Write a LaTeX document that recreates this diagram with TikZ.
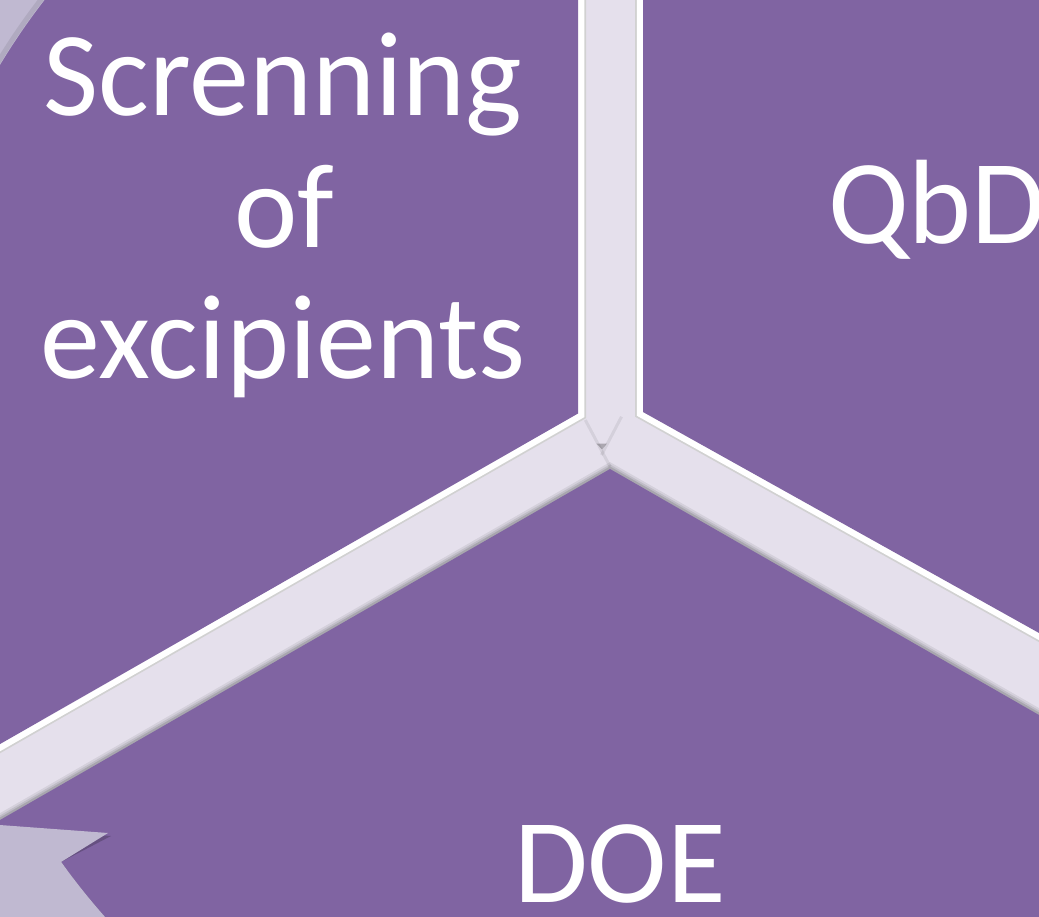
\documentclass[tikz,border=0pt]{standalone}
\usepackage{fontspec}
\setmainfont{Carlito}
\usetikzlibrary{calc}
\definecolor{segpurple}{HTML}{8064A2}
\definecolor{bandlav}{HTML}{E5E0EC}
\definecolor{arrowlav}{HTML}{C0B9D1}
\tikzset{
  segment/.style={fill=segpurple, draw=none},
  edgegray/.style={draw=black!18, line width=16pt, line join=miter},
  edgewhite/.style={draw=white, line width=12.5pt, line join=miter},
  shadowline/.style={draw=black, line join=miter},
  biglabel/.style={text=white, font=\fontsize{120}{132}\selectfont, inner sep=0pt, text depth=0pt},
}
\begin{document}
\begin{tikzpicture}[x=1pt,y=-1pt]
\useasboundingbox (0,0) rectangle (1039,916);
\clip (0,0) rectangle (1039,916);
\fill[bandlav] (0,0) rectangle (1039,916);
\coordinate (A1) at (578,413.5);
\coordinate (A2) at (643,412);
\coordinate (A3) at (610,469);
% highlight edges of the two upper segments
\draw[edgegray] (578,-30) -- (A1) -- (-30,761.2);
\draw[edgegray] (643,-30) -- (A2) -- (1250,750.7);
\draw[edgewhite] (578,-30) -- (A1) -- (-30,761.2);
\draw[edgewhite] (643,-30) -- (A2) -- (1250,750.7);
% shadow edges of the lower segment
\draw[shadowline, opacity=.07, line width=12pt] (-30,837.3) -- (A3) -- (1250,836);
\draw[shadowline, opacity=.09, line width=8pt] (-30,837.3) -- (A3) -- (1250,836);
\draw[shadowline, opacity=.12, line width=4.5pt] (-30,837.3) -- (A3) -- (1250,836);
% segments
\fill[segment] (578,-30) -- (A1) -- (-30,761.2) -- (-30,-30) -- cycle;
\fill[segment] (643,-30) -- (A2) -- (1250,750.7) -- (1250,-30) -- cycle;
\fill[segment] (-30,837.3) -- (A3) -- (1250,836) -- (1250,1000) -- (-30,1000) -- cycle;
% centre details
\fill[black, opacity=.25] (596.5,443.5) -- (607,443.5) -- (602,449.5) -- cycle;
\draw[shadowline, opacity=.07, line width=3pt] (585.3,420) -- (610,466.5);
\draw[shadowline, opacity=.07, line width=3pt] (621.5,416.7) -- (601.5,455);
% circular arrows (light)
\fill[arrowlav] ($(A1)+(-128:675)$) arc[start angle=-128, end angle=-160, radius=675] -- (-60,-120) -- cycle;
\draw[shadowline, opacity=.08, line width=5pt] ($(A1)+(-128:678)$) arc[start angle=-128, end angle=-160, radius=678];
\fill[black, opacity=.2, shift={(3,3)}] (-30,822.8) -- (108,833) -- ($(A3)+(144.4:675)$) arc[start angle=144.4, end angle=128, radius=675] -- (-30,1000) -- cycle;
\fill[arrowlav] (-30,822.8) -- (108,833) -- ($(A3)+(144.4:675)$) arc[start angle=144.4, end angle=128, radius=675] -- (-30,1000) -- cycle;
% labels
\node[biglabel, anchor=base] (t1a) at (283,115) {Screnning};
\node[biglabel, anchor=base] (t1b) at (284,247) {of};
\node[biglabel, anchor=base] (t1c) at (283,378) {excipients};
\node[biglabel, anchor=base west] (t2) at (828,243) {QbD};
\node[biglabel, anchor=base] (t3) at (620,902) {DOE};
\end{tikzpicture}
\end{document}
